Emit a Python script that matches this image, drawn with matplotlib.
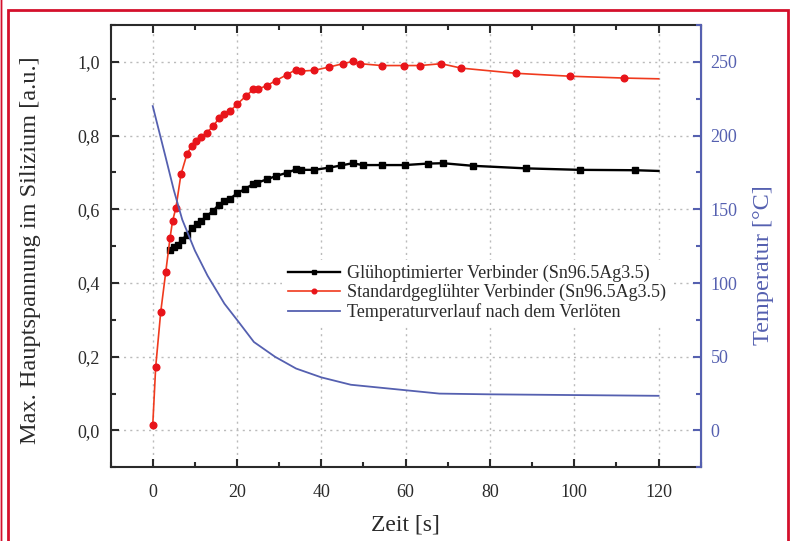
import matplotlib
matplotlib.use("Agg")
import matplotlib.pyplot as plt
from matplotlib.ticker import MultipleLocator, FuncFormatter
from matplotlib.patches import Rectangle

# ----- Messdaten ----- #
t_std = [0, 0.7, 1.9, 3.1, 4.1, 4.7, 5.5, 6.7, 8.1, 9.2, 10.2, 11.4, 12.8, 14.4,
         15.8, 17.0, 18.4, 20.1, 22.1, 23.9, 24.9, 27.0, 29.2, 31.8, 34.0, 35.2,
         38.3, 41.9, 45.1, 47.4, 49.2, 54.3, 59.5, 63.5, 68.4, 73.2, 86.1, 99.0,
         111.9, 120]
s_std = [0.014, 0.172, 0.322, 0.431, 0.522, 0.568, 0.604, 0.695, 0.749, 0.772,
         0.786, 0.795, 0.808, 0.826, 0.849, 0.858, 0.867, 0.886, 0.907, 0.926,
         0.926, 0.935, 0.949, 0.965, 0.979, 0.975, 0.977, 0.986, 0.995, 1.001,
         0.995, 0.990, 0.990, 0.990, 0.995, 0.983, 0.969, 0.961, 0.956, 0.954]

t_opt = [4.1, 5.1, 5.9, 6.9, 8.1, 9.3, 10.5, 11.5, 12.7, 14.3, 15.7, 17.0, 18.4,
         20.0, 22.0, 23.9, 24.8, 27.0, 29.2, 31.8, 33.9, 35.1, 38.3, 41.9, 44.7,
         47.4, 49.8, 54.5, 59.8, 65.2, 68.9, 75.9, 88.6, 101.4, 114.5, 120]
s_opt = [0.490, 0.497, 0.504, 0.516, 0.531, 0.549, 0.561, 0.568, 0.581, 0.595,
         0.613, 0.622, 0.629, 0.643, 0.656, 0.669, 0.672, 0.681, 0.690, 0.699,
         0.708, 0.707, 0.707, 0.713, 0.719, 0.725, 0.720, 0.720, 0.720, 0.724,
         0.725, 0.718, 0.711, 0.707, 0.706, 0.704]

t_temp = [0, 3, 5, 7, 10, 13, 17, 20, 24, 29, 34, 40, 47, 54, 61, 68, 80, 100, 120]
temp = [220, 186, 163, 143, 122, 105, 86, 75, 60, 50, 42, 36, 31, 29, 27, 25,
        24.5, 24, 23.5]

label_opt = "Glühoptimierter Verbinder (Sn96.5Ag3.5)"
label_std = "Standardgeglühter Verbinder (Sn96.5Ag3.5)"
label_temp = "Temperaturverlauf nach dem Verlöten"

# ----- Plot ----- #
plt.rcParams['font.family'] = ['Liberation Serif', 'DejaVu Serif']
plt.rcParams['font.size'] = 11

dark = "#2a2a2a"
blue = "#5560b0"

fig = plt.figure(figsize=(7.95, 5.41), dpi=100)
ax = fig.add_axes([0.1391, 0.1362, 0.7423, 0.8176])
ax2 = ax.twinx()

l1, = ax.plot(t_opt, s_opt, color="black", lw=1.7, marker="s", ms=5,
              markevery=list(range(len(t_opt) - 1)), label=label_opt)
l2, = ax.plot(t_std, s_std, color="#f03a1e", lw=1.2, marker="o", ms=4.8,
              mfc="#e8141a", mec="#e8141a",
              markevery=list(range(len(t_std) - 1)), label=label_std)
l3, = ax2.plot(t_temp, temp, color=blue, lw=1.3, label=label_temp)

ax.set_xlim(-10, 130)
ax.set_ylim(-0.1, 1.1)
ax2.set_ylim(-25, 275)

ax.xaxis.set_major_locator(MultipleLocator(20))
ax.xaxis.set_minor_locator(MultipleLocator(10))
ax.yaxis.set_major_locator(MultipleLocator(0.2))
ax.yaxis.set_minor_locator(MultipleLocator(0.1))
ax.yaxis.set_major_formatter(FuncFormatter(lambda v, p: f"{v:.1f}".replace(".", ",")))
ax2.yaxis.set_major_locator(MultipleLocator(50))
ax2.yaxis.set_minor_locator(MultipleLocator(25))

ax.tick_params(which="both", direction="in", top=True, right=False,
               color=dark, labelcolor=dark, labelsize=13, width=1.5)
ax.tick_params(axis="x", pad=12)
ax.tick_params(axis="y", pad=8)
ax.tick_params(which="major", length=6)
ax.tick_params(which="minor", length=3.5)
ax2.tick_params(which="both", direction="in", color=blue, labelcolor=blue,
                labelsize=13, width=1.5, pad=7)
ax2.tick_params(which="major", length=6)
ax2.tick_params(which="minor", length=3.5)

for side in ["left", "top", "bottom"]:
    ax.spines[side].set_color(dark)
    ax.spines[side].set_linewidth(1.5)
ax2.spines["right"].set_color(blue)
ax2.spines["right"].set_linewidth(1.5)
for side in ["left", "top", "bottom"]:
    ax2.spines[side].set_visible(False)

ax.grid(True, which="major", linestyle=(0, (1.5, 3)), color="#bbbbbb", lw=1)

ax.set_xlabel("Zeit [s]", fontsize=17, color=dark, labelpad=10)
ax.set_ylabel("Max. Hauptspannung im Silizium [a.u.]", fontsize=17.5, color=dark)
ax.yaxis.set_label_coords(-0.118, 0.491)
ax2.set_ylabel("Temperatur [°C]", fontsize=17.5, color=blue)
ax2.yaxis.set_label_coords(1.089, 0.457)

leg = ax2.legend([l1, l2, l3], [label_opt, label_std, label_temp],
                 loc="upper left", bbox_to_anchor=(0.276, 0.49),
                 fontsize=13, handlelength=2.9, handletextpad=0.35,
                 labelspacing=0.1, markerscale=0.7, frameon=True,
                 framealpha=1, edgecolor="none", facecolor="white",
                 borderpad=0.3)
for txt in leg.get_texts():
    txt.set_color(dark)

# red frame
fig.patches.append(Rectangle((7.5 / 795, -0.05), (788 - 7.5) / 795, 1.05 - 10 / 541,
                             transform=fig.transFigure, fill=False,
                             edgecolor="#d4102c", lw=2))
fig.patches.append(Rectangle((0.5 / 795, -0.05), 0.001, 1.1,
                             transform=fig.transFigure, fill=False,
                             edgecolor="#d4102c", lw=1))

fig.savefig("out.png", dpi=100)
